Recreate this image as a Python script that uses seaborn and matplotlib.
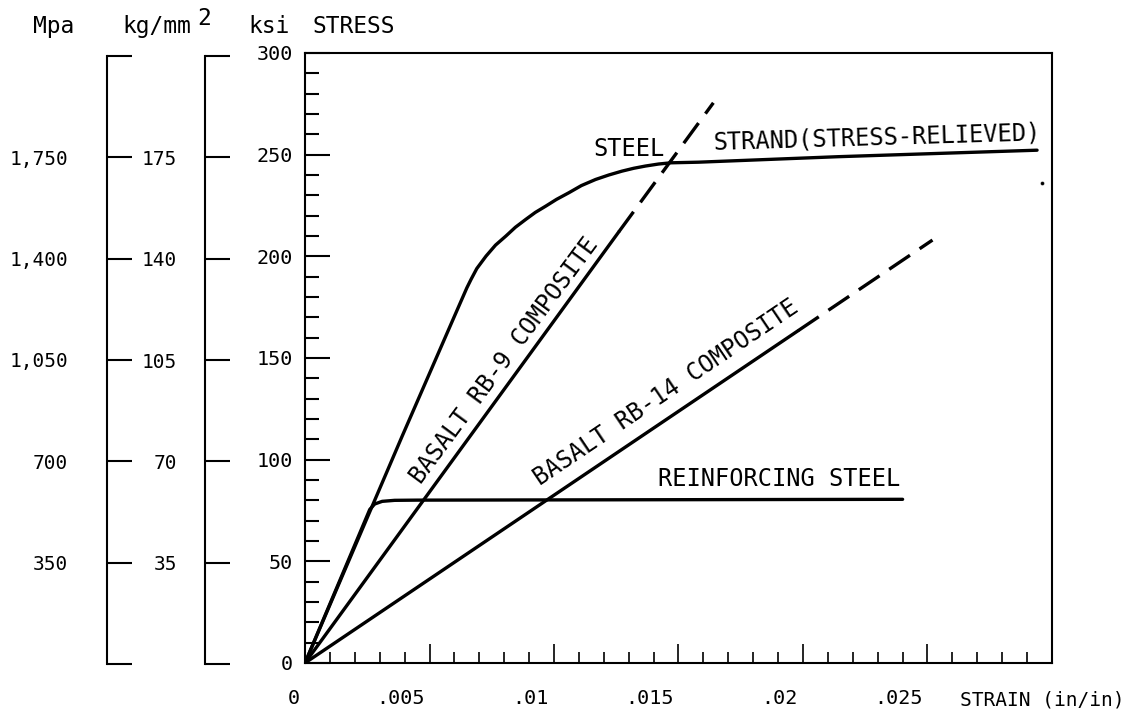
import pandas as pd
import seaborn as sns
import matplotlib.pyplot as plt
from matplotlib.ticker import FixedLocator
from matplotlib.transforms import ScaledTranslation

# values: strain in in/in, stress in ksi
strand_strain = [0, 0.0039, 0.0060, 0.00650, 0.00667, 0.0069, 0.00727, 0.00765, 0.00807,
                 0.00845, 0.00887, 0.00925, 0.00967, 0.0101, 0.0106, 0.0111, 0.01167,
                 0.0122, 0.01273, 0.0132, 0.01367, 0.0142, 0.0147, 0.0158, 0.0214, 0.0294]
strand_stress = [0, 111.5, 170.5, 184.5, 188.7, 194.0, 200.1, 205.5, 210.0,
                 214.3, 218.2, 221.6, 224.7, 228.0, 231.3, 234.8, 237.8,
                 240.0, 241.9, 243.3, 244.4, 245.4, 246.0, 246.3, 249.0, 252.2]

rebar_strain = [0, 0.0026, 0.0028, 0.0031, 0.0036, 0.0045, 0.0240]
rebar_stress = [0, 75.5, 78.2, 79.5, 80.0, 80.1, 80.5]

rb9_strain = [0, 0.0126]
rb9_stress = [0, 212]
rb9_dash_strain = [0.0126, 0.0164]
rb9_dash_stress = [212, 275.5]

rb14_strain = [0, 0.0198]
rb14_stress = [0, 163.4]
rb14_dash_strain = [0.0198, 0.0252]
rb14_dash_stress = [163.4, 208]

speck_strain = [0.0296]
speck_stress = [236]

ksi_ticks = [0, 50, 100, 150, 200, 250, 300]
ksi_labels = ["0", "50", "100", "150", "200", "250", "300"]
mpa_labels = ["", "350", "700", "1,050", "1,400", "1,750", ""]
kg_labels = ["", "35", "70", "105", "140", "175", ""]
strain_ticks = [0, 0.005, 0.01, 0.015, 0.02, 0.025]
strain_labels = ["0", ".005", ".01", ".015", ".02", ".025"]

solid = pd.concat([
    pd.DataFrame({"curve": "strand", "strain": strand_strain, "stress": strand_stress}),
    pd.DataFrame({"curve": "rebar", "strain": rebar_strain, "stress": rebar_stress}),
    pd.DataFrame({"curve": "rb9", "strain": rb9_strain, "stress": rb9_stress}),
    pd.DataFrame({"curve": "rb14", "strain": rb14_strain, "stress": rb14_stress}),
])
dashed = pd.concat([
    pd.DataFrame({"curve": "rb9", "strain": rb9_dash_strain, "stress": rb9_dash_stress}),
    pd.DataFrame({"curve": "rb14", "strain": rb14_dash_strain, "stress": rb14_dash_stress}),
])

sns.set_style("ticks")
plt.rcParams["font.family"] = ["DejaVu Sans Mono", "DejaVu Sans"]
plt.rcParams["axes.edgecolor"] = "black"
plt.rcParams["text.color"] = "black"
plt.rcParams["xtick.color"] = "black"
plt.rcParams["ytick.color"] = "black"
plt.rcParams["lines.solid_capstyle"] = "round"
plt.rcParams["lines.solid_joinstyle"] = "round"

W, H = 1127, 709
fig = plt.figure(figsize=(W / 100, H / 100), dpi=100)


def fx(px):
    return px / W


def fy(py):
    return 1 - py / H


ax = fig.add_axes([fx(305), fy(663), fx(1052) - fx(305), fy(53) - fy(663)])

sns.lineplot(data=solid, x="strain", y="stress", units="curve", estimator=None,
             sort=False, color="black", linewidth=2.4, ax=ax)
sns.lineplot(data=dashed, x="strain", y="stress", units="curve", estimator=None,
             sort=False, color="black", linewidth=2.4, linestyle=(0, (7.5, 3.5)), ax=ax)
sns.scatterplot(x=speck_strain, y=speck_stress, color="black", s=8, ax=ax)

ax.set_xlim(0, 0.03)
ax.set_ylim(0, 300)
ax.set_xlabel("")
ax.set_ylabel("")
for s in ax.spines.values():
    s.set_linewidth(1.5)

ax.set_yticks(ksi_ticks, ksi_labels)
ax.yaxis.set_minor_locator(FixedLocator([v for v in range(10, 300, 10) if v % 50]))
ax.set_xticks(strain_ticks, strain_labels)
ax.xaxis.set_minor_locator(FixedLocator([i / 1000 for i in range(1, 30) if i % 5]))

ax.tick_params(axis="y", which="major", direction="in", length=18, width=1.5, pad=8.5, labelsize=14.5)
ax.tick_params(axis="y", which="minor", direction="in", length=10, width=1.5)
ax.tick_params(axis="x", which="major", direction="in", length=14, width=1.2, pad=19, labelsize=14.5)
ax.tick_params(axis="x", which="minor", direction="in", length=8, width=1.2)

# the strain labels sit just left of their ticks in the original
shift = ScaledTranslation(-0.05, 0, fig.dpi_scale_trans)
for lbl in ax.get_xticklabels():
    lbl.set_horizontalalignment("right")
    lbl.set_transform(lbl.get_transform() + shift)

# curve labels
lab = dict(fontsize=17, rotation_mode="anchor")
ax.text(0.0116, 253, "STEEL", ha="left", va="center", **lab)
ax.text(0.0164, 256, "STRAND(STRESS-RELIEVED)", ha="left", va="center", rotation=1.7, **lab)
ax.text(0.0080, 148.5, "BASALT RB-9 COMPOSITE", ha="center", va="center", rotation=53.5, **lab)
ax.text(0.01448, 133, "BASALT RB-14 COMPOSITE", ha="center", va="center", rotation=34, **lab)
ax.text(0.01416, 90.4, "REINFORCING STEEL", ha="left", va="center", **lab)

# auxiliary stress scales (MPa and kg/mm2) on the left
for spine_px, labels, pad in [(107, mpa_labels, 28), (205, kg_labels, 20)]:
    sc = fig.add_axes([fx(spine_px), fy(664), 0.02, fy(56) - fy(664)])
    sc.set_ylim(0, 300)
    sc.set_xticks([])
    for s in ["top", "right", "bottom"]:
        sc.spines[s].set_visible(False)
    sc.spines["left"].set_linewidth(1.5)
    sc.set_yticks(ksi_ticks, labels)
    sc.tick_params(axis="y", direction="in", length=18, width=1.5, pad=pad, labelsize=14)
    sc.patch.set_visible(False)

# header and axis titles
hd = dict(fontsize=16.5, va="baseline")
fig.text(fx(33), fy(33), "Mpa", **hd)
fig.text(fx(122), fy(33), "kg/mm", **hd)
fig.text(fx(197), fy(25), "2", **hd)
fig.text(fx(248), fy(33), "ksi", **hd)
fig.text(fx(312), fy(33), "STRESS", **hd)
fig.text(fx(960), fy(705), "STRAIN (in/in)", fontsize=14, va="baseline")

fig.savefig("out.png", dpi=100)
